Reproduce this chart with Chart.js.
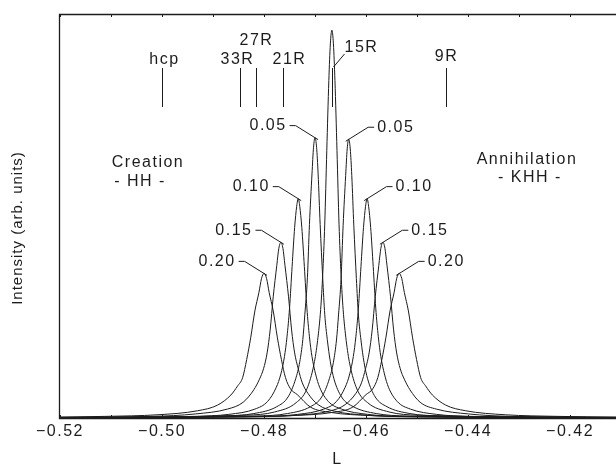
<!DOCTYPE html>
<html>
<head>
<meta charset="utf-8">
<script src="https://cdn.jsdelivr.net/npm/chart.js@4.4.1/dist/chart.umd.min.js"></script>
<style>
  html, body { margin: 0; padding: 0; background: #fff; }
  #wrap { width: 616px; height: 468px; }
</style>
</head>
<body>
<div id="wrap"><canvas id="scan"></canvas></div>
<script>
// ---- data: L positions and intensities (arb. units) ----

const xTickValues = [-0.52, -0.50, -0.48, -0.46, -0.44, -0.42];
const xMinorTicks = [-0.52, -0.51, -0.50, -0.49, -0.48, -0.47, -0.46, -0.45, -0.44, -0.43, -0.42];

const markerNames = ['hcp', '33R', '27R', '21R', '15R', '9R'];
const markerL = [-0.5000, -0.4848, -0.4815, -0.4762, -0.4667, -0.4444];

// central (unlabelled) peak
const centreL = [-0.5200, -0.4835, -0.4779, -0.4737, -0.4716, -0.4702, -0.4695, -0.4689, -0.4685, -0.4681, -0.4677, -0.4673, -0.4670, -0.4667, -0.4664, -0.4661, -0.4657, -0.4653, -0.4649, -0.4645, -0.4639, -0.4632, -0.4618, -0.4597, -0.4555, -0.4499, -0.4110];
const centreI = [0.1, 0.7, 1.5, 3.8, 7.2, 13.4, 19.2, 26.9, 35.5, 48.0, 66.2, 83.5, 92.6, 96.0, 92.6, 83.5, 66.2, 48.0, 35.5, 26.9, 19.2, 13.4, 7.2, 3.8, 1.5, 0.7, 0.1];

// creation side (HH)
const hh05L = [-0.5200, -0.4880, -0.4820, -0.4775, -0.4753, -0.4738, -0.4730, -0.4724, -0.4720, -0.4715, -0.4711, -0.4706, -0.4703, -0.4700, -0.4697, -0.4694, -0.4690, -0.4685, -0.4681, -0.4676, -0.4670, -0.4663, -0.4648, -0.4625, -0.4580, -0.4520, -0.4110];
const hh05I = [0.1, 0.5, 1.1, 2.8, 5.2, 9.7, 13.9, 19.4, 25.7, 34.7, 47.9, 60.4, 67.0, 69.4, 67.0, 60.4, 47.9, 34.7, 25.7, 19.4, 13.9, 9.7, 5.2, 2.8, 1.1, 0.5, 0.1];
const hh10L = [-0.5200, -0.4937, -0.4869, -0.4818, -0.4793, -0.4776, -0.4767, -0.4760, -0.4755, -0.4750, -0.4745, -0.4740, -0.4736, -0.4733, -0.4730, -0.4726, -0.4721, -0.4716, -0.4711, -0.4706, -0.4699, -0.4691, -0.4674, -0.4648, -0.4597, -0.4529, -0.4110];
const hh10I = [0.1, 0.4, 0.9, 2.2, 4.1, 7.6, 10.9, 15.2, 20.1, 27.2, 37.5, 47.2, 52.4, 54.3, 52.4, 47.2, 37.5, 27.2, 20.1, 15.2, 10.9, 7.6, 4.1, 2.2, 0.9, 0.4, 0.1];
const hh15L = [-0.5200, -0.5019, -0.4935, -0.4872, -0.4841, -0.4820, -0.4809, -0.4801, -0.4794, -0.4788, -0.4782, -0.4775, -0.4771, -0.4767, -0.4763, -0.4759, -0.4752, -0.4746, -0.4740, -0.4733, -0.4725, -0.4714, -0.4694, -0.4662, -0.4599, -0.4515, -0.4110];
const hh15I = [0.2, 0.4, 1.0, 2.2, 3.9, 7.0, 9.6, 12.2, 16.1, 21.8, 30.0, 37.8, 42.0, 43.5, 42.0, 37.8, 30.0, 21.8, 16.1, 12.2, 8.7, 6.1, 3.3, 1.7, 0.7, 0.3, 0.1];
const hh20L = [-0.5200, -0.5112, -0.5008, -0.4930, -0.4891, -0.4865, -0.4852, -0.4842, -0.4834, -0.4826, -0.4818, -0.4810, -0.4805, -0.4800, -0.4795, -0.4790, -0.4782, -0.4774, -0.4766, -0.4758, -0.4748, -0.4735, -0.4709, -0.4670, -0.4592, -0.4488, -0.4110];
const hh20I = [0.2, 0.4, 0.8, 1.8, 3.2, 5.7, 7.9, 10.0, 14.5, 20.0, 26.5, 31.1, 34.5, 35.8, 34.5, 31.1, 26.5, 20.0, 14.5, 10.0, 7.2, 5.8, 2.7, 1.4, 0.6, 0.3, 0.1];

// annihilation side (KHH)
const khh05L = [-0.5200, -0.4814, -0.4754, -0.4709, -0.4687, -0.4672, -0.4664, -0.4658, -0.4654, -0.4649, -0.4645, -0.4640, -0.4637, -0.4634, -0.4631, -0.4628, -0.4624, -0.4619, -0.4615, -0.4610, -0.4604, -0.4597, -0.4582, -0.4559, -0.4514, -0.4454, -0.4110];
const khh05I = [0.1, 0.5, 1.1, 2.8, 5.2, 9.7, 13.8, 19.3, 25.5, 34.5, 47.6, 60.0, 66.6, 69.0, 66.6, 60.0, 47.6, 34.5, 25.5, 19.3, 13.8, 9.7, 5.2, 2.8, 1.1, 0.5, 0.1];
const khh10L = [-0.5200, -0.4802, -0.4734, -0.4683, -0.4658, -0.4641, -0.4632, -0.4625, -0.4620, -0.4615, -0.4610, -0.4605, -0.4601, -0.4598, -0.4595, -0.4591, -0.4586, -0.4581, -0.4576, -0.4571, -0.4564, -0.4556, -0.4539, -0.4513, -0.4462, -0.4394, -0.4110];
const khh10I = [0.1, 0.4, 0.9, 2.2, 4.1, 7.6, 10.9, 15.2, 20.1, 27.2, 37.5, 47.2, 52.4, 54.3, 52.4, 47.2, 37.5, 27.2, 20.1, 15.2, 10.9, 7.6, 4.1, 2.2, 0.9, 0.4, 0.1];
const khh15L = [-0.5200, -0.4819, -0.4735, -0.4672, -0.4641, -0.4620, -0.4609, -0.4601, -0.4594, -0.4588, -0.4582, -0.4575, -0.4571, -0.4567, -0.4563, -0.4559, -0.4552, -0.4546, -0.4540, -0.4533, -0.4525, -0.4514, -0.4494, -0.4462, -0.4399, -0.4315, -0.4110];
const khh15I = [0.1, 0.3, 0.7, 1.7, 3.3, 6.1, 8.7, 12.2, 16.1, 21.8, 30.0, 37.8, 42.0, 43.5, 42.0, 37.8, 30.0, 21.8, 16.1, 12.2, 9.6, 7.0, 3.9, 2.2, 1.0, 0.4, 0.2];
const khh20L = [-0.5200, -0.4847, -0.4743, -0.4665, -0.4626, -0.4600, -0.4587, -0.4577, -0.4569, -0.4561, -0.4553, -0.4545, -0.4540, -0.4535, -0.4530, -0.4525, -0.4517, -0.4509, -0.4501, -0.4493, -0.4483, -0.4470, -0.4444, -0.4405, -0.4327, -0.4223, -0.4110];
const khh20I = [0.1, 0.3, 0.6, 1.4, 2.7, 5.8, 7.2, 10.0, 14.5, 20.0, 26.5, 31.1, 34.5, 35.8, 34.5, 31.1, 26.5, 20.0, 14.5, 10.0, 7.9, 5.7, 3.2, 1.8, 0.8, 0.4, 0.2];

// ---- series table ----
const curves = [
    { L: centreL, I: centreI, label: '', side: 0 },
    { L: hh05L, I: hh05I, label: '0.05', side: -1 },
    { L: hh10L, I: hh10I, label: '0.10', side: -1 },
    { L: hh15L, I: hh15I, label: '0.15', side: -1 },
    { L: hh20L, I: hh20I, label: '0.20', side: -1 },
    { L: khh05L, I: khh05I, label: '0.05', side: 1 },
    { L: khh10L, I: khh10I, label: '0.10', side: 1 },
    { L: khh15L, I: khh15I, label: '0.15', side: 1 },
    { L: khh20L, I: khh20I, label: '0.20', side: 1 },
];

const INK = '#1c1c1c';
const FONT = '"Liberation Sans", Arial, sans-serif';

// label placement (pixels, tuned against the scan)
const markerStyle = {
    'hcp': { dx: 2, y: 60 },
    '33R': { dx: -3, y: 60 },
    '27R': { dx: 0, y: 41 },
    '21R': { dx: 6, y: 60 },
    '15R': { dx: 29, y: 48, leader: true },
    '9R': { dx: 0, y: 57 },
};
const sideTexts = [
    { text: 'Creation', x: 148, y: 163 },
    { text: '- HH -', x: 140, y: 182 },
    { text: 'Annihilation', x: 527, y: 160 },
    { text: '- KHH -', x: 530, y: 178 },
];

const scanDecor = {
    id: 'scanDecor',
    beforeDraw(chart) {
        chart.ctx.letterSpacing = '1.5px';
    },
    afterDatasetsDraw(chart) {
        const { ctx, chartArea: a, scales: { x, y } } = chart;
        ctx.save();
        ctx.strokeStyle = INK;
        ctx.fillStyle = INK;

        // frame: left, top, bottom (right edge is cropped in the scan)
        ctx.lineWidth = 1.3;
        ctx.beginPath();
        ctx.moveTo(a.right, a.top + 0.5);
        ctx.lineTo(a.left + 0.5, a.top + 0.5);
        ctx.lineTo(a.left + 0.5, a.bottom + 0.5);
        ctx.lineTo(a.right, a.bottom + 0.5);
        ctx.stroke();

        // small inward ticks top and bottom
        ctx.lineWidth = 1;
        xMinorTicks.forEach(v => {
            const px = Math.round(x.getPixelForValue(v)) + 0.5;
            ctx.beginPath();
            ctx.moveTo(px, a.top); ctx.lineTo(px, a.top + 3);
            ctx.moveTo(px, a.bottom); ctx.lineTo(px, a.bottom - 3);
            ctx.stroke();
        });

        ctx.font = '16px ' + FONT;
        ctx.letterSpacing = '1.5px';
        ctx.textAlign = 'center';
        ctx.textBaseline = 'middle';

        // stacking-sequence markers
        markerNames.forEach((name, i) => {
            const st = markerStyle[name];
            const px = Math.round(x.getPixelForValue(markerL[i])) + 0.5;
            ctx.beginPath();
            ctx.moveTo(px, 68); ctx.lineTo(px, 107);
            ctx.stroke();
            ctx.fillText(name, px + st.dx, st.y);
            if (st.leader) {
                ctx.beginPath();
                ctx.moveTo(px + 12, st.y + 6);
                ctx.lineTo(px + 1, 67);
                ctx.stroke();
            }
        });

        // peak labels with leader lines
        chart.data.datasets.forEach((ds, di) => {
            const c = curves[di];
            if (!c.side) return;
            let k = 0;
            c.I.forEach((v, j) => { if (v > c.I[k]) k = j; });
            const px = x.getPixelForValue(c.L[k]);
            const py = y.getPixelForValue(c.I[k]);
            const tx = px + c.side * 47;
            const ty = py - 12;
            const hw = ctx.measureText(c.label).width / 2;
            ctx.fillText(c.label, tx, ty);
            const sx = tx - c.side * (hw + 3);
            ctx.beginPath();
            ctx.moveTo(sx, ty);
            ctx.lineTo(sx - c.side * 6, ty);
            ctx.lineTo(px - c.side * 3, py + 2);
            ctx.stroke();
        });

        sideTexts.forEach(t => ctx.fillText(t.text, t.x, t.y));

        // y axis title
        ctx.translate(18, 228);
        ctx.rotate(-Math.PI / 2);
        ctx.font = '15px ' + FONT;
        ctx.letterSpacing = '1px';
        ctx.fillText('Intensity (arb. units)', 0, 0);
        ctx.restore();
    },
};

new Chart(document.getElementById('scan'), {
    type: 'scatter',
    data: {
        datasets: curves.map(c => ({
            data: c.L.map((v, i) => ({ x: v, y: c.I[i] })),
            showLine: true,
            borderColor: INK,
            borderWidth: 1,
            pointRadius: 0,
            cubicInterpolationMode: 'monotone',
            fill: false,
        })),
    },
    options: {
        responsive: true,
        maintainAspectRatio: false,
        animation: false,
        layout: { padding: { top: 14, right: 0, bottom: 0, left: 0 } },
        plugins: { legend: { display: false }, tooltip: { enabled: false } },
        scales: {
            x: {
                type: 'linear',
                min: -0.5202,
                max: -0.4110,
                afterBuildTicks: s => { s.ticks = xTickValues.map(v => ({ value: v })); },
                afterFit: s => { s.height = 50; },
                grid: { display: false, drawTicks: false },
                border: { display: false },
                ticks: {
                    color: INK,
                    font: { family: FONT, size: 16 },
                    padding: 4,
                    maxRotation: 0,
                    autoSkip: false,
                    callback: v => '\u2212' + Math.abs(v).toFixed(2),
                },
                title: {
                    display: true,
                    text: 'L',
                    color: INK,
                    font: { family: FONT, size: 16, lineHeight: 1 },
                    padding: 0,
                },
            },
            y: {
                min: 0,
                max: 100,
                afterFit: s => { s.width = 59; },
                ticks: { display: false },
                grid: { display: false, drawTicks: false },
                border: { display: false },
            },
        },
    },
    plugins: [scanDecor],
});
</script>
</body>
</html>
